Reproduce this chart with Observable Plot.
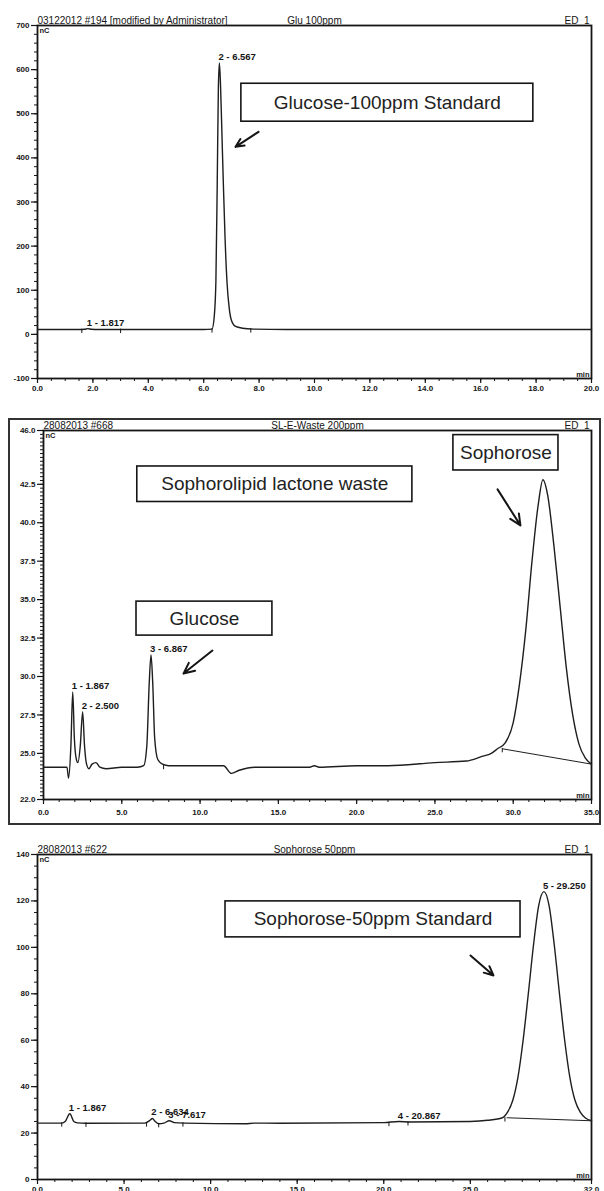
<!DOCTYPE html>
<html><head><meta charset="utf-8">
<script src="https://cdn.jsdelivr.net/npm/d3@7"></script>
<script src="https://cdn.jsdelivr.net/npm/@observablehq/plot@0.6"></script>
<style>
body{margin:0;background:#fff;}
#root{position:relative;width:604px;height:1191px;overflow:hidden;font-family:"Liberation Sans",Arial,sans-serif;background:#fff;}
#root svg{position:absolute;left:0;overflow:visible;}
#box2{position:absolute;left:8px;top:418px;width:593px;height:407px;border:2px solid #333;box-sizing:border-box;}
</style></head><body><div id="root"><div id="box2"></div></div>
<script>
// ---------- Panel 1: Glucose 100ppm standard ----------
const p1Header = ["03122012 #194 [modified by Administrator]", "Glu 100ppm", "ED_1"];
const p1Time   = [0, 1.5, 1.7, 1.817, 1.95, 2.2, 6.0, 6.3, 6.38, 6.44, 6.49, 6.53, 6.567, 6.61, 6.66, 6.71, 6.77, 6.84, 6.92, 7.0, 7.15, 7.4, 7.8, 9, 12, 16, 20];
const p1Signal = [11, 11, 11.5, 13, 11.5, 11, 11, 12, 40, 120, 350, 560, 615, 560, 450, 340, 220, 120, 60, 32, 18, 14, 12, 11, 11, 11, 11];
const p1PeakNames = ["1 - 1.817", "2 - 6.567"];
const p1PeakTimes = [1.817, 6.567];
const p1PeakHeights = [13, 615];
const p1MarkTimes = [1.6, 3.0, 6.3, 7.7];
const p1MarkValues = [11, 11, 12, 12];
const p1XTicks = [0, 2, 4, 6, 8, 10, 12, 14, 16, 18, 20];
const p1YTicks = [-100, 0, 100, 200, 300, 400, 500, 600, 700];
const p1BoxText = ["Glucose-100ppm Standard"];
const p1BoxX1 = [7.36], p1BoxX2 = [17.9], p1BoxY1 = [568], p1BoxY2 = [482];
const p1ArrowX1 = [7.98], p1ArrowY1 = [459], p1ArrowX2 = [7.15], p1ArrowY2 = [425];

// ---------- Panel 2: SL-E-Waste 200ppm ----------
const p2Header = ["28082013 #668", "SL-E-Waste 200ppm", "ED_1"];
const p2Time   = [0, 1.5, 1.6, 1.75, 1.867, 1.97, 2.1, 2.2, 2.35, 2.5, 2.62, 2.75, 2.9, 3.1, 3.35, 3.6, 4.0, 5.0, 6.0, 6.4, 6.6, 6.75, 6.867, 6.98, 7.1, 7.3, 7.6, 8.0, 10, 11.5, 12.0, 12.5, 13.5, 17, 17.3, 17.6, 20, 22, 25, 27, 28, 28.6, 29.0, 29.5, 30.0, 30.4, 30.8, 31.2, 31.6, 31.9, 32.2, 32.6, 33.0, 33.4, 33.8, 34.2, 34.6, 35];
const p2Signal = [24.1, 24.1, 23.4, 25.5, 29.0, 26.0, 24.6, 24.4, 25.5, 27.7, 25.5, 24.3, 24.0, 24.3, 24.4, 24.1, 24.0, 24.1, 24.1, 24.2, 25.5, 29.5, 31.4, 29.5, 26.0, 24.6, 24.3, 24.2, 24.2, 24.2, 23.7, 23.9, 24.1, 24.1, 24.2, 24.1, 24.2, 24.2, 24.4, 24.5, 24.8, 25.0, 25.3, 25.7, 27.0, 29.5, 33.0, 37.5, 41.2, 42.8, 41.8, 38.5, 34.5, 30.5, 27.5, 25.6, 24.7, 24.3];
const p2PeakNames = ["1 - 1.867", "2 - 2.500", "3 - 6.867"];
const p2PeakTimes = [1.867, 2.5, 6.867];
const p2PeakHeights = [29.0, 27.7, 31.4];
const p2MarkTimes = [7.67, 29.3];
const p2MarkValues = [24.2, 25.3];
const p2BaseX1 = [29.3], p2BaseY1 = [25.3], p2BaseX2 = [35], p2BaseY2 = [24.3];
const p2XTicks = [0, 5, 10, 15, 20, 25, 30, 35];
const p2YTicks = [22, 25, 27.5, 30, 32.5, 35, 37.5, 40, 42.5, 46];
const p2BoxText = ["Sophorolipid lactone waste", "Sophorose", "Glucose"];
const p2BoxX1 = [5.99, 26.18, 5.94], p2BoxX2 = [23.56, 32.89, 14.62];
const p2BoxY1 = [43.66, 45.7, 34.87], p2BoxY2 = [41.35, 43.4, 32.66];
const p2ArrowX1 = [29.0, 10.79], p2ArrowY1 = [42.17, 31.69], p2ArrowX2 = [30.46, 8.94], p2ArrowY2 = [39.83, 30.19];

// ---------- Panel 3: Sophorose 50ppm standard ----------
const p3Header = ["28082013 #622", "Sophorose 50ppm", "ED_1"];
const p3Time   = [0, 1.4, 1.6, 1.867, 2.1, 2.3, 2.8, 6.2, 6.5, 6.634, 6.8, 7.0, 7.3, 7.617, 7.9, 8.5, 12, 12.5, 14, 20, 20.867, 21.5, 25, 26, 26.85, 27.15, 27.45, 27.75, 28.05, 28.35, 28.65, 28.95, 29.25, 29.55, 29.85, 30.15, 30.45, 30.75, 31.05, 31.35, 31.65, 32];
const p3Signal = [24.3, 24.3, 25.0, 28.3, 25.0, 24.4, 24.2, 24.3, 25.5, 26.3, 25.0, 24.0, 24.3, 25.3, 24.5, 24.3, 24.0, 24.3, 24.2, 24.5, 25.0, 24.8, 25.0, 25.5, 26.6, 29, 34, 44, 60, 80, 101, 118, 124, 118, 101, 80, 60, 44, 34, 29, 26.5, 25.3];
const p3PeakNames = ["1 - 1.867", "2 - 6.634", "3 - 7.617", "4 - 20.867", "5 - 29.250"];
const p3PeakTimes = [1.867, 6.634, 7.617, 20.867, 29.25];
const p3PeakHeights = [28.3, 26.3, 25.3, 25.0, 124];
const p3MarkTimes = [1.4, 2.8, 6.3, 7.0, 8.4, 20.3, 21.4, 27.0];
const p3MarkValues = [24.3, 24.2, 24.3, 24.0, 24.3, 24.5, 24.8, 26.5];
const p3BaseX1 = [27.1], p3BaseY1 = [26.6], p3BaseX2 = [32], p3BaseY2 = [25.3];
const p3XTicks = [0, 5, 10, 15, 20, 25, 32];
const p3YTicks = [0, 20, 40, 60, 80, 100, 120, 140];
const p3BoxText = ["Sophorose-50ppm Standard"];
const p3BoxX1 = [10.86], p3BoxX2 = [27.9], p3BoxY1 = [119.8], p3BoxY2 = [104.3];
const p3ArrowX1 = [25.01], p3ArrowY1 = [96.5], p3ArrowX2 = [26.34], p3ArrowY2 = [87.9];

const INK = "#151515";
// short vertical stroke used for the peak delimiter marks
const tickSymbol = {draw(ctx, size) { const l = Math.sqrt(size); ctx.moveTo(0, -l * 0.2); ctx.lineTo(0, l * 0.8); }};

function range(a, b, s) { const out = []; for (let v = a; v <= b + 1e-9; v += s) out.push(+v.toFixed(4)); return out; }

function panel(o) {
  const trace = o.time.map((t, i) => ({t, v: o.signal[i]}));
  const peaks = o.peakNames.map((n, i) => ({n, t: o.peakTimes[i], v: o.peakHeights[i]}));
  const marks = o.markTimes.map((t, i) => ({t, v: o.markValues[i]}));
  const boxes = o.boxText.map((s, i) => ({s, x1: o.boxX1[i], x2: o.boxX2[i], y1: o.boxY1[i], y2: o.boxY2[i]}));
  const arrows = o.arrowX1.map((x1, i) => ({x1, y1: o.arrowY1[i], x2: o.arrowX2[i], y2: o.arrowY2[i]}));
  const bases = (o.baseX1 || []).map((x1, i) => ({x1, y1: o.baseY1[i], x2: o.baseX2[i], y2: o.baseY2[i]}));
  const [xmin, xmax] = [o.xTicks[0], o.xTicks[o.xTicks.length - 1]];
  const [ymin, ymax] = [o.yTicks[0], o.yTicks[o.yTicks.length - 1]];
  return Plot.plot({
    width: 604, height: o.height,
    marginLeft: o.ml, marginRight: 13, marginTop: o.mt, marginBottom: o.mb,
    x: {domain: [xmin, xmax], label: null},
    y: {domain: [ymin, ymax], label: null},
    style: {fontFamily: "'Liberation Sans', Arial, sans-serif", fontSize: "8px", color: INK, background: "transparent"},
    marks: [
      Plot.axisY(range(ymin, ymax, o.yMinor), {tickSize: 3, text: null, stroke: INK}),
      Plot.axisY(o.yTicks, {tickSize: 6, tickPadding: 2, tickFormat: o.yFormat, fontWeight: "bold", stroke: INK, strokeWidth: 1.2}),
      Plot.axisX(range(xmin, xmax, o.xMinor), {tickSize: 3, text: null, stroke: INK}),
      Plot.axisX(o.xTicks, {tickSize: 5, tickPadding: o.xPad, tickFormat: d => d.toFixed(1), fontWeight: "bold", stroke: INK, strokeWidth: 1.2}),
      Plot.frame({stroke: INK, strokeWidth: 1.8}),
      Plot.line(trace, {x: "t", y: "v", curve: "monotone-x", stroke: "#1e1e1e", strokeWidth: 1.4}),
      Plot.link(bases, {x1: "x1", y1: "y1", x2: "x2", y2: "y2", stroke: "#1e1e1e", strokeWidth: 1}),
      Plot.dot(marks, {x: "t", y: "v", symbol: tickSymbol, r: 2.5, fill: "none", stroke: INK, strokeWidth: 1}),
      Plot.text(peaks, {x: "t", y: "v", text: "n", dx: -1, dy: -6, textAnchor: "start", fontSize: 9.5, fontWeight: "bold", fill: INK}),
      Plot.text([o.header[0]], {frameAnchor: "top-left", text: d => d, dy: -2, lineAnchor: "bottom", textAnchor: "start", fontSize: 10, fill: INK}),
      Plot.text([o.header[1]], {frameAnchor: "top", text: d => d, dy: -2, lineAnchor: "bottom", fontSize: 10, fill: INK}),
      Plot.text([o.header[2]], {frameAnchor: "top-right", text: d => d, dx: -2, dy: -2, lineAnchor: "bottom", textAnchor: "end", fontSize: 10, fill: INK}),
      Plot.text(["nC"], {frameAnchor: "top-left", text: d => d, dx: 2, dy: 2, lineAnchor: "top", textAnchor: "start", fontSize: 7.5, fontWeight: "bold", fill: INK}),
      Plot.text(["min"], {frameAnchor: "bottom-right", text: d => d, dx: -2, dy: -2, lineAnchor: "bottom", textAnchor: "end", fontSize: 7.5, fontWeight: "bold", fill: INK}),
      Plot.rect(boxes, {x1: "x1", x2: "x2", y1: "y1", y2: "y2", fill: "white", stroke: INK, strokeWidth: 1.6}),
      Plot.text(boxes, {x: d => (d.x1 + d.x2) / 2, y: d => (d.y1 + d.y2) / 2, text: "s", fontSize: 19, fill: "#222"}),
      Plot.arrow(arrows, {x1: "x1", y1: "y1", x2: "x2", y2: "y2", stroke: INK, strokeWidth: 2, headLength: 9, headAngle: 50})
    ]
  });
}

const root = document.getElementById("root");
function place(svg, top) { svg.style.top = top + "px"; root.appendChild(svg); }

place(panel({
  header: p1Header, time: p1Time, signal: p1Signal,
  peakNames: p1PeakNames, peakTimes: p1PeakTimes, peakHeights: p1PeakHeights,
  markTimes: p1MarkTimes, markValues: p1MarkValues,
  xTicks: p1XTicks, yTicks: p1YTicks, xMinor: 0.5, yMinor: 20, yFormat: d => d.toFixed(0),
  boxText: p1BoxText, boxX1: p1BoxX1, boxX2: p1BoxX2, boxY1: p1BoxY1, boxY2: p1BoxY2,
  arrowX1: p1ArrowX1, arrowY1: p1ArrowY1, arrowX2: p1ArrowX2, arrowY2: p1ArrowY2,
  height: 400, ml: 37, mt: 25, mb: 22, xPad: 2
}), 0);

place(panel({
  header: p2Header, time: p2Time, signal: p2Signal,
  peakNames: p2PeakNames, peakTimes: p2PeakTimes, peakHeights: p2PeakHeights,
  markTimes: p2MarkTimes, markValues: p2MarkValues,
  baseX1: p2BaseX1, baseY1: p2BaseY1, baseX2: p2BaseX2, baseY2: p2BaseY2,
  xTicks: p2XTicks, yTicks: p2YTicks, xMinor: 1, yMinor: 0.25, yFormat: d => d.toFixed(1),
  boxText: p2BoxText, boxX1: p2BoxX1, boxX2: p2BoxX2, boxY1: p2BoxY1, boxY2: p2BoxY2,
  arrowX1: p2ArrowX1, arrowY1: p2ArrowY1, arrowX2: p2ArrowX2, arrowY2: p2ArrowY2,
  height: 420, ml: 43, mt: 25, mb: 26, xPad: 5
}), 405);

place(panel({
  header: p3Header, time: p3Time, signal: p3Signal,
  peakNames: p3PeakNames, peakTimes: p3PeakTimes, peakHeights: p3PeakHeights,
  markTimes: p3MarkTimes, markValues: p3MarkValues,
  baseX1: p3BaseX1, baseY1: p3BaseY1, baseX2: p3BaseX2, baseY2: p3BaseY2,
  xTicks: p3XTicks, yTicks: p3YTicks, xMinor: 1, yMinor: 5, yFormat: d => d.toFixed(0),
  boxText: p3BoxText, boxX1: p3BoxX1, boxX2: p3BoxX2, boxY1: p3BoxY1, boxY2: p3BoxY2,
  arrowX1: p3ArrowX1, arrowY1: p3ArrowY1, arrowX2: p3ArrowX2, arrowY2: p3ArrowY2,
  height: 356, ml: 37, mt: 19, mb: 12, xPad: 2
}), 835);
</script></body></html>
